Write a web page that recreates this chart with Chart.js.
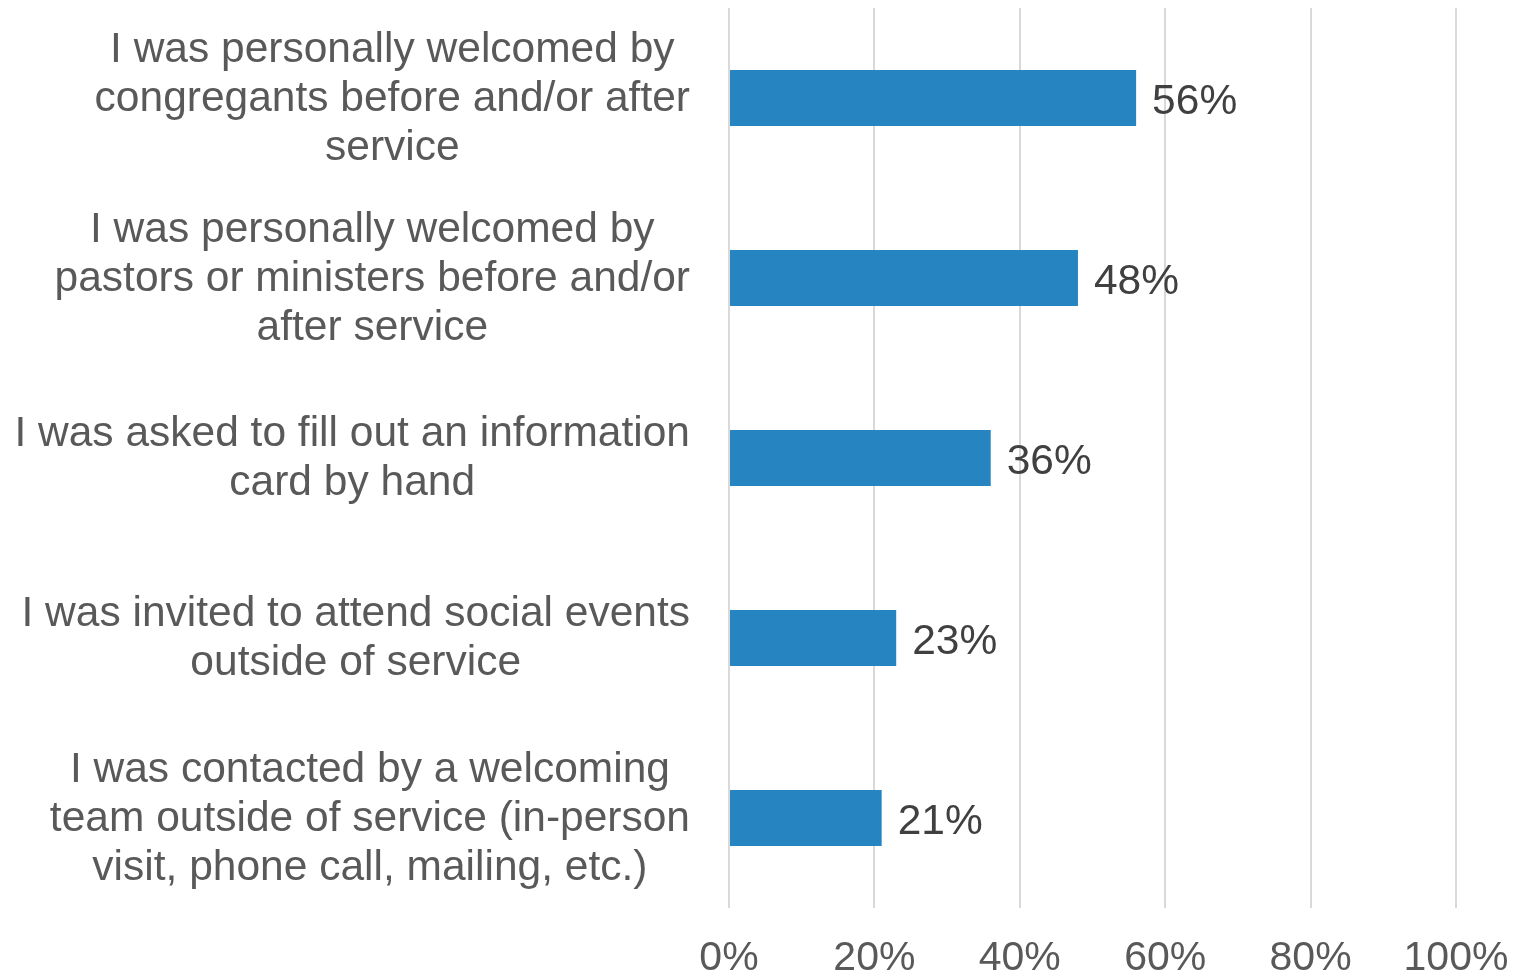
<!DOCTYPE html>
<html>
<head>
<meta charset="utf-8">
<script src="https://cdn.jsdelivr.net/npm/chart.js@4.4.1/dist/chart.umd.min.js"></script>
<style>
  html, body { margin: 0; padding: 0; background: #ffffff; }
  #wrap { width: 1520px; height: 977px; }
</style>
</head>
<body>
<div id="wrap"><canvas id="chart"></canvas></div>
<script>
// category labels, one array of lines per bar
const categories = [
  ['I was personally welcomed by', 'congregants before and/or after', 'service'],
  ['I was personally welcomed by', 'pastors or ministers before and/or', 'after service'],
  ['I was asked to fill out an information', 'card by hand'],
  ['I was invited to attend social events', 'outside of service'],
  ['I was contacted by a welcoming', 'team outside of service (in-person', 'visit, phone call, mailing, etc.)']
];
const shares = [56, 48, 36, 23, 21];
const xTicks = [0, 20, 40, 60, 80, 100];

const FONT = '"Liberation Sans", Arial, sans-serif';

// draws the wrapped category labels: block right-aligned, lines centred inside it
const categoryLabels = {
  id: 'categoryLabels',
  afterDraw(chart) {
    const ctx = chart.ctx;
    const y = chart.scales.y;
    const right = chart.chartArea.left - 39;
    const lh = 49;
    ctx.save();
    ctx.font = '42.5px ' + FONT;
    ctx.fillStyle = '#595959';
    ctx.textAlign = 'center';
    ctx.textBaseline = 'middle';
    categories.forEach((lines, i) => {
      const widest = Math.max(...lines.map(l => ctx.measureText(l).width));
      const cx = right - widest / 2;
      const cy = y.getPixelForValue(i) + 1;
      const top = cy - (lines.length - 1) * lh / 2;
      lines.forEach((l, k) => ctx.fillText(l, cx, top + k * lh));
    });
    ctx.restore();
  }
};

// value labels at the end of each bar
const valueLabels = {
  id: 'valueLabels',
  afterDatasetsDraw(chart) {
    const ctx = chart.ctx;
    const meta = chart.getDatasetMeta(0);
    ctx.save();
    ctx.font = '42.5px ' + FONT;
    ctx.fillStyle = '#404040';
    ctx.textAlign = 'left';
    ctx.textBaseline = 'middle';
    meta.data.forEach((bar, i) => {
      ctx.fillText(shares[i] + '%', bar.x + 16, bar.y + 4);
    });
    ctx.restore();
  }
};

new Chart(document.getElementById('chart'), {
  type: 'bar',
  data: {
    labels: categories.map(c => c.join(' ')),
    datasets: [{
      data: shares,
      backgroundColor: '#2684c0',
      borderWidth: 0,
      barPercentage: 0.31,
      categoryPercentage: 1
    }]
  },
  options: {
    indexAxis: 'y',
    responsive: true,
    maintainAspectRatio: false,
    animation: false,
    layout: { padding: { top: 8, right: 64, left: 0, bottom: 0 } },
    plugins: { legend: { display: false }, tooltip: { enabled: false } },
    scales: {
      x: {
        min: 0,
        max: 100,
        afterBuildTicks: s => { s.ticks = xTicks.map(v => ({ value: v })); },
        afterFit: s => { s.height = 69; s.paddingLeft = 0; s.paddingRight = 0; },
        border: { display: false },
        grid: { color: '#d9d9d9', lineWidth: 2, drawTicks: false },
        ticks: {
          padding: 26,
          color: '#595959',
          font: { family: FONT, size: 41 },
          callback: v => v + '%'
        }
      },
      y: {
        afterFit: s => { s.width = 729; },
        border: { display: false },
        grid: { display: false },
        ticks: { display: false }
      }
    }
  },
  plugins: [categoryLabels, valueLabels]
});
</script>
</body>
</html>
